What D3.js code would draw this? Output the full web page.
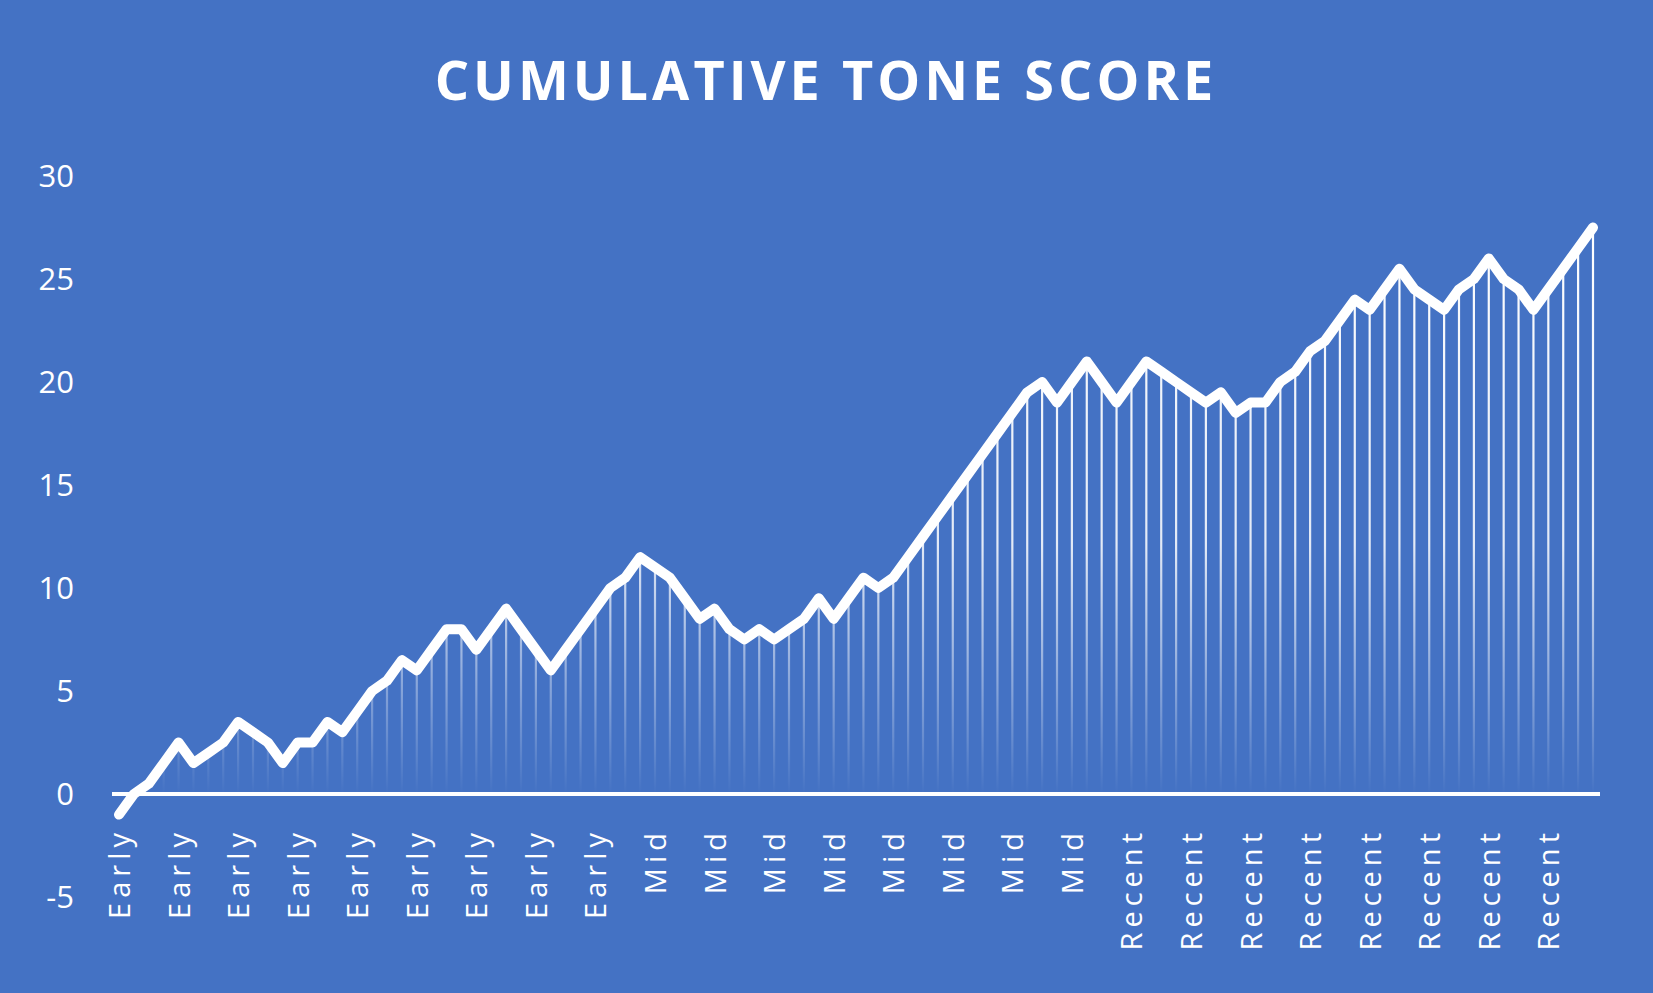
<!DOCTYPE html>
<html>
<head>
<meta charset="utf-8">
<script src="https://cdn.jsdelivr.net/npm/d3@7"></script>
<style>
  body { margin: 0; background: #4472C4; }
  text { font-family: "Open Sans", sans-serif; fill: #fff; }
</style>
</head>
<body>
<div id="chart"></div>
<script>
// one label per point, only every 4th is shown
const phases = [
  ...Array(36).fill("Early"),
  ...Array(32).fill("Mid"),
  ...Array(32).fill("Recent")
];
const scores = [
  -1, 0, 0.5, 1.5, 2.5, 1.5, 2, 2.5, 3.5, 3,
  2.5, 1.5, 2.5, 2.5, 3.5, 3, 4, 5, 5.5, 6.5,
  6, 7, 8, 8, 7, 8, 9, 8, 7, 6,
  7, 8, 9, 10, 10.5, 11.5, 11, 10.5, 9.5, 8.5,
  9, 8, 7.5, 8, 7.5, 8, 8.5, 9.5, 8.5, 9.5,
  10.5, 10, 10.5, 11.5, 12.5, 13.5, 14.5, 15.5, 16.5, 17.5,
  18.5, 19.5, 20, 19, 20, 21, 20, 19, 20, 21,
  20.5, 20, 19.5, 19, 19.5, 18.5, 19, 19, 20, 20.5,
  21.5, 22, 23, 24, 23.5, 24.5, 25.5, 24.5, 24, 23.5,
  24.5, 25, 26, 25, 24.5, 23.5, 24.5, 25.5, 26.5, 27.5
];
const yTicks = [-5, 0, 5, 10, 15, 20, 25, 30];

const width = 1653, height = 993;
const svg = d3.select("#chart").append("svg")
  .attr("width", width).attr("height", height);

svg.append("rect").attr("width", width).attr("height", height).attr("fill", "#4472C4");

const x = d3.scaleLinear().domain([0, scores.length - 1]).range([119, 1593]);
const y = d3.scaleLinear().domain([-5, 30]).range([897, 176]);

const defs = svg.append("defs");
const grad = defs.append("linearGradient")
  .attr("id", "drop").attr("gradientUnits", "userSpaceOnUse")
  .attr("x1", 0).attr("x2", 0).attr("y1", y(27)).attr("y2", y(0));
grad.append("stop").attr("offset", "0%").attr("stop-color", "#fff").attr("stop-opacity", 1);
grad.append("stop").attr("offset", "55%").attr("stop-color", "#fff").attr("stop-opacity", 0.85);
grad.append("stop").attr("offset", "100%").attr("stop-color", "#fff").attr("stop-opacity", 0);

// title
svg.append("text")
  .attr("x", 826).attr("y", 100)
  .attr("text-anchor", "middle")
  .attr("font-size", 54).attr("font-weight", "bold")
  .attr("letter-spacing", 4)
  .text("CUMULATIVE TONE SCORE");

// y axis labels
svg.append("g").selectAll("text")
  .data(yTicks).enter().append("text")
  .attr("x", 74).attr("y", d => y(d))
  .attr("dy", "0.35em").attr("text-anchor", "end")
  .attr("font-size", 31)
  .text(d => d);

// drop lines
svg.append("g").selectAll("line")
  .data(scores).enter().append("line")
  .filter(d => d > 0)
  .attr("x1", (d, i) => x(scores.indexOf(d) >= 0 ? i : i))
  .attr("x2", (d, i) => x(i));
svg.select("g:last-of-type").remove();

svg.append("g").selectAll("line")
  .data(scores.map((v, i) => ({ v, i })).filter(d => d.v > 0))
  .enter().append("line")
  .attr("x1", d => x(d.i)).attr("x2", d => x(d.i))
  .attr("y1", d => y(d.v)).attr("y2", y(0))
  .attr("stroke", "url(#drop)").attr("stroke-width", 2.2);

// zero axis
svg.append("line")
  .attr("x1", 112).attr("x2", 1600)
  .attr("y1", y(0)).attr("y2", y(0))
  .attr("stroke", "#fff").attr("stroke-width", 4);

// category labels
svg.append("g").selectAll("text")
  .data(phases.map((p, i) => ({ p, i })).filter(d => d.i % 4 === 0))
  .enter().append("text")
  .attr("transform", d => `translate(${x(d.i) + 11},828) rotate(-90)`)
  .attr("text-anchor", "end")
  .attr("font-size", 29).attr("letter-spacing", 5)
  .text(d => d.p);

// line
svg.append("path")
  .datum(scores)
  .attr("fill", "none").attr("stroke", "#fff")
  .attr("stroke-width", 10).attr("stroke-linejoin", "round").attr("stroke-linecap", "round")
  .attr("d", d3.line().x((d, i) => x(i)).y(d => y(d)));
</script>
</body>
</html>
